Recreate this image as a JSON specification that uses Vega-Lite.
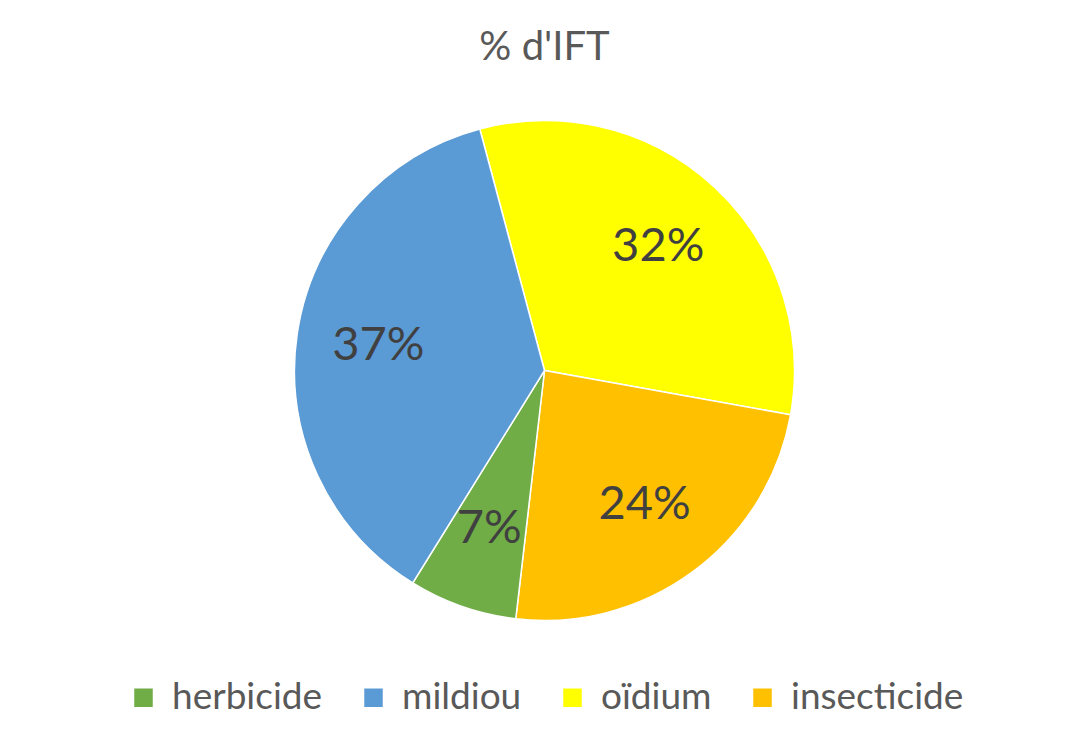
{
  "$schema": "https://vega.github.io/schema/vega-lite/v6.json",
  "width": 1089,
  "height": 746,
  "autosize": {"type": "fit", "contains": "padding"},
  "padding": {"top": 28, "bottom": 30, "left": 10, "right": 10},
  "background": "white",
  "title": {
    "text": "% d'IFT",
    "fontSize": 40,
    "font": "Lato",
    "fontWeight": "normal",
    "color": "#595959",
    "offset": 20
  },
  "data": {
    "values": [
      {"category": "oïdium", "value": 32, "label": "32%", "order": 1},
      {"category": "insecticide", "value": 24, "label": "24%", "order": 2},
      {"category": "herbicide", "value": 7, "label": "7%", "order": 3},
      {"category": "mildiou", "value": 37, "label": "37%", "order": 4}
    ]
  },
  "encoding": {
    "theta": {
      "field": "value",
      "type": "quantitative",
      "stack": true,
      "scale": {"range": [-0.2618, 6.0214]}
    },
    "order": {"field": "order", "type": "quantitative"},
    "color": {
      "field": "category",
      "type": "nominal",
      "scale": {
        "domain": ["herbicide", "mildiou", "oïdium", "insecticide"],
        "range": ["#70AD47", "#5B9BD5", "#FFFF00", "#FFC000"]
      },
      "legend": {
        "orient": "bottom",
        "direction": "horizontal",
        "title": null,
        "symbolType": "square",
        "symbolSize": 400,
        "labelFontSize": 37,
        "labelFont": "Lato",
        "labelColor": "#595959",
        "labelOffset": 10,
        "columnPadding": 32,
        "offset": 26,
        "labelLimit": 300
      }
    }
  },
  "layer": [
    {"mark": {"type": "arc", "outerRadius": 250, "stroke": "white", "strokeWidth": 1.5}},
    {
      "mark": {"type": "text", "radius": 168, "fontSize": 47, "font": "Lato"},
      "encoding": {
        "text": {"field": "label", "type": "nominal"},
        "color": {"value": "#404040"}
      }
    }
  ],
  "config": {
    "view": {"stroke": null},
    "legend": {"layout": {"bottom": {"anchor": "middle"}}}
  }
}
